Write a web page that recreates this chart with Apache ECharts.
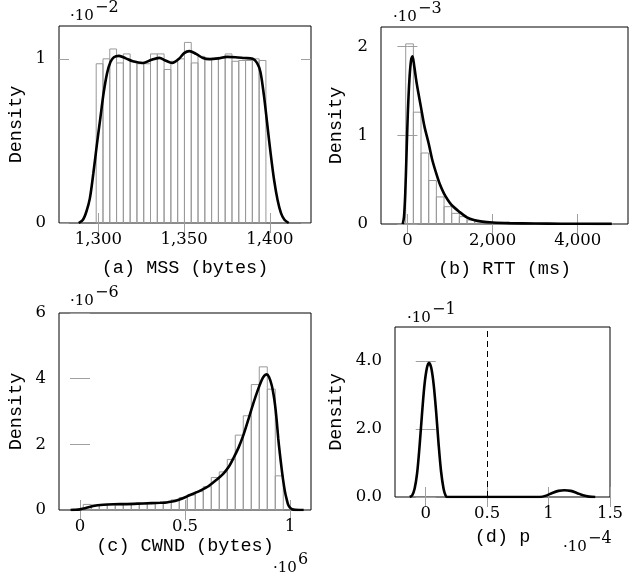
<!DOCTYPE html>
<html><head><meta charset="utf-8">
<script src="https://cdn.jsdelivr.net/npm/echarts@6/dist/echarts.min.js"></script>
<style>html,body{margin:0;padding:0;background:#fff}#c{width:629px;height:576px}</style>
</head><body><div id="c"></div><script>
// ---------- data ----------
// (a) MSS (bytes), density x 10^-2
const mssBinStart = 1298.7, mssBinWidth = 3.96;
const mssHist = [0.97, 1.00, 1.06, 0.975, 1.03, 0.985, 0.97, 0.97, 1.03, 1.03, 0.935, 0.985, 1.0, 1.10, 0.975, 1.015, 0.995, 1.0, 1.01, 1.03, 0.985, 0.99, 0.99, 1.0, 0.99];
const mssKde = [[1288.5,0],[1291,0.02],[1293,0.07],[1295,0.15],[1297,0.3],[1299,0.47],[1301,0.63],[1303,0.79],[1305,0.91],[1307,0.98],[1309,1.01],[1312,1.018],[1316,1.003],[1320,0.985],[1326,0.975],[1331,0.995],[1335.5,1.006],[1339,0.99],[1343,0.975],[1347,1.0],[1350,1.035],[1353,1.047],[1357,1.03],[1361,1.005],[1365,0.998],[1370,1.003],[1375,1.012],[1380,1.01],[1385,1.005],[1390,1.0],[1392.5,0.975],[1394.5,0.92],[1396.5,0.78],[1398.5,0.6],[1400.5,0.42],[1402.5,0.26],[1404.5,0.14],[1406.5,0.06],[1408.5,0.02],[1411,0]];
const mssXTicks = [1300, 1350, 1400];
const mssYTicks = [0, 1];

// (b) RTT (ms), density x 10^-3
const rttBinStart = -40, rttBinWidth = 180;
const rttHist = [2.03, 1.26, 0.80, 0.49, 0.305, 0.195, 0.12, 0.083, 0.045, 0.027, 0.018, 0.012, 0.008, 0.006, 0.005, 0.004, 0.003, 0.003, 0.002, 0.002, 0.002, 0.001, 0.001, 0.001, 0.001, 0.001, 0.001];
const rttKde = [[-110,0],[-80,0.08],[-50,0.35],[-20,0.8],[10,1.25],[50,1.65],[90,1.86],[120,1.89],[160,1.78],[220,1.58],[317,1.32],[400,1.1],[498,0.91],[580,0.73],[677,0.57],[760,0.45],[857,0.345],[950,0.27],[1037,0.214],[1216,0.139],[1397,0.075],[1560,0.045],[1756,0.027],[2000,0.017],[2400,0.01],[3000,0.005],[3600,0.003],[4200,0.002],[4800,0.001]];
const rttXTicks = [0, 2000, 4000];
const rttYTicks = [0, 1, 2];

// (c) CWND (bytes x 10^6), density x 10^-6
const cwndBinStart = 0.0155, cwndBinWidth = 0.0381;
const cwndHist = [0.17, 0.15, 0.15, 0.16, 0.16, 0.17, 0.18, 0.19, 0.21, 0.23, 0.26, 0.31, 0.38, 0.46, 0.56, 0.71, 0.99, 1.16, 1.54, 2.28, 2.87, 3.82, 4.36, 3.68, 1.04];
const cwndKde = [[-0.045,0],[-0.03,0.005],[0.0,0.02],[0.024,0.05],[0.063,0.12],[0.111,0.16],[0.16,0.175],[0.222,0.18],[0.3,0.2],[0.381,0.22],[0.413,0.23],[0.44,0.26],[0.46,0.29],[0.49,0.36],[0.524,0.456],[0.563,0.56],[0.6,0.68],[0.619,0.76],[0.65,0.92],[0.683,1.11],[0.71,1.33],[0.73,1.57],[0.755,1.9],[0.778,2.28],[0.8,2.72],[0.825,3.24],[0.845,3.62],[0.865,3.95],[0.878,4.09],[0.889,4.13],[0.9,4.05],[0.913,3.8],[0.922,3.5],[0.929,3.19],[0.937,2.7],[0.944,2.18],[0.952,1.7],[0.96,1.27],[0.968,0.88],[0.976,0.56],[0.984,0.33],[0.992,0.15],[1.0,0.07],[1.01,0.025],[1.025,0.005],[1.045,0],[1.065,0]];
const cwndXTicks = [0, 0.5, 1];
const cwndYTicks = [0, 2, 4, 6];

// (d) p (x 10^-4), density x 10^-1
const pKde = [[-0.13,0],[-0.11,0.05],[-0.09,0.25],[-0.07,0.7],[-0.05,1.5],[-0.03,2.45],[-0.01,3.3],[0.01,3.8],[0.027,3.95],[0.045,3.8],[0.065,3.3],[0.085,2.5],[0.105,1.55],[0.125,0.75],[0.145,0.25],[0.16,0.06],[0.175,0],[0.3,0],[0.6,0],[0.93,0],[0.98,0.04],[1.03,0.12],[1.08,0.18],[1.13,0.2],[1.18,0.18],[1.23,0.12],[1.28,0.05],[1.33,0.01],[1.38,0]];
const pThreshold = [0.5];
const pXTicks = [0, 0.5, 1, 1.5];
const pYTicks = [0, 2, 4];

// ---------- chart ----------
const SERIF = '"DejaVu Serif"';
const MONO = '"Liberation Mono"';
const tickStyle = {show: true, inside: true, length: 10, lineStyle: {color: '#a0a0a0', width: 1}};
const labelBase = {fontFamily: SERIF, fontSize: 16.5, color: '#000'};
const comma = v => Math.round(v).toLocaleString('en-US');

function histData(start, w, vals) {
  return vals.map((h, i) => [start + i * w, start + (i + 1) * w, h]);
}

const grids = [
  {left: 59, top: 26, width: 252, height: 197},
  {left: 381, top: 27, width: 247, height: 197},
  {left: 59, top: 313, width: 252, height: 197},
  {left: 395, top: 327, width: 215, height: 170}
].map(g => Object.assign(g, {show: true, borderColor: '#000', borderWidth: 1, backgroundColor: 'transparent'}));

const panels = [
  {x: [1277, 1424], y: [0, 1.2], xt: mssXTicks, yt: mssYTicks, xf: comma, yf: v => String(v), name: '(a) MSS (bytes)', xGap: 36, yGap: 33},
  {x: [-620, 5180], y: [0, 2.22], xt: rttXTicks, yt: rttYTicks, xf: comma, yf: v => String(v), name: '(b) RTT (ms)', xGap: 36, yGap: 35},
  {x: [-0.1, 1.1], y: [0, 6], xt: cwndXTicks, yt: cwndYTicks, xf: v => String(v), yf: v => String(v), name: '(c) CWND (bytes)', xGap: 27, yGap: 33},
  {x: [-0.25, 1.5], y: [0, 5], xt: pXTicks, yt: pYTicks, xf: v => String(v), yf: v => v.toFixed(1), name: '(d) p', xGap: 31, yGap: 49}
];

const xAxis = [], yAxis = [];
panels.forEach((p, i) => {
  xAxis.push({type: 'value', gridIndex: i, position: 'bottom', min: p.x[0], max: p.x[1],
    axisLine: {show: false}, splitLine: {show: false},
    axisTick: Object.assign({customValues: p.xt}, tickStyle),
    axisLabel: Object.assign({customValues: p.xt, formatter: p.xf, margin: 8}, labelBase),
    name: p.name, nameLocation: 'middle', nameGap: p.xGap,
    nameTextStyle: {fontFamily: MONO, fontSize: 18.5, color: '#000'}});
  xAxis.push({type: 'value', gridIndex: i, position: 'top', min: p.x[0], max: p.x[1],
    axisLine: {show: false}, splitLine: {show: false},
    axisTick: Object.assign({customValues: p.xt}, tickStyle), axisLabel: {show: false}});
  yAxis.push({type: 'value', gridIndex: i, position: 'left', min: p.y[0], max: p.y[1],
    axisLine: {show: false}, splitLine: {show: false},
    axisTick: Object.assign({customValues: p.yt}, tickStyle),
    axisLabel: Object.assign({customValues: p.yt, formatter: p.yf, margin: 13}, labelBase),
    name: 'Density', nameLocation: 'middle', nameGap: p.yGap,
    nameTextStyle: {fontFamily: MONO, fontSize: 18.5, color: '#000'}});
  yAxis.push({type: 'value', gridIndex: i, position: 'right', min: p.y[0], max: p.y[1],
    axisLine: {show: false}, splitLine: {show: false},
    axisTick: Object.assign({customValues: p.yt}, tickStyle), axisLabel: {show: false}});
});

function histSeries(idx, data) {
  return {type: 'custom', xAxisIndex: idx * 2, yAxisIndex: idx * 2, data: data,
    encode: {x: [0, 1], y: 2}, z: 2, silent: true,
    renderItem: (params, api) => {
      const a = api.coord([api.value(0), 0]);
      const b = api.coord([api.value(1), api.value(2)]);
      return {type: 'rect', shape: {x: a[0], y: b[1], width: b[0] - a[0], height: a[1] - b[1]},
        style: {fill: 'rgba(0,0,0,0)', stroke: '#999', lineWidth: 1}};
    }};
}
function kdeSeries(idx, data, extra) {
  return Object.assign({type: 'line', xAxisIndex: idx * 2, yAxisIndex: idx * 2, data: data,
    showSymbol: false, symbol: 'none', smooth: 0.3, z: 5, silent: true,
    lineStyle: {color: '#000', width: 2.6}}, extra || {});
}

const series = [
  histSeries(0, histData(mssBinStart, mssBinWidth, mssHist)),
  kdeSeries(0, mssKde),
  histSeries(1, histData(rttBinStart, rttBinWidth, rttHist)),
  kdeSeries(1, rttKde),
  histSeries(2, histData(cwndBinStart, cwndBinWidth, cwndHist)),
  kdeSeries(2, cwndKde),
  kdeSeries(3, pKde, {markLine: {silent: true, symbol: ['none', 'none'], label: {show: false},
    lineStyle: {color: '#000', width: 1, type: [6, 4]}, data: pThreshold.map(v => ({xAxis: v}))}})
];

function expo(x, y, base, sup) {
  return [
    {type: 'text', x: x, y: y, style: {text: base, font: '15px ' + SERIF, fill: '#000', textAlign: 'left', textVerticalAlign: 'middle'}},
    {type: 'text', x: x + 25, y: y - 8, style: {text: sup, font: '16px ' + SERIF, fill: '#000', textAlign: 'left', textVerticalAlign: 'middle'}}
  ];
}
const graphic = [].concat(
  expo(70, 16, '·10', '−2'),
  expo(393, 17, '·10', '−3'),
  expo(70, 301, '·10', '−6'),
  expo(407, 318, '·10', '−1'),
  expo(563, 547, '·10', '−4'),
  expo(273, 568, '·10', '6')
);

const chart = echarts.init(document.getElementById('c'), null, {renderer: 'canvas'});
chart.setOption({animation: false, grid: grids, xAxis: xAxis, yAxis: yAxis, series: series, graphic: graphic});
</script></body></html>
